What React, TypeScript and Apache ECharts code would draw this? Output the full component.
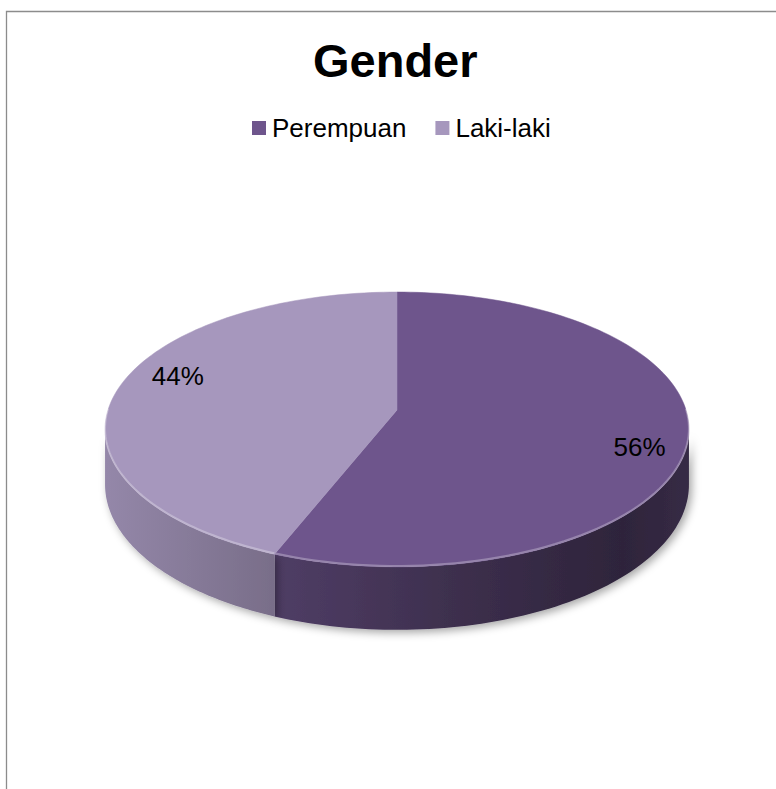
import React, { useEffect, useRef } from "react";
import * as echarts from "echarts";

// ---- data ----
const categories = ["Perempuan", "Laki-laki"];
const values = [56, 44];
const topColors = ["#6E558C", "#A697BD"];
const titleText = "Gender";

// ---- 3D pie projection (layout) ----
const CX = 397;
const CY = 410;
const RX = 289;
const RY = 134.7;
const PERSP = 0.1418;
const DEPTH = 54;
const LABEL_R = 0.84;
const LABEL_TURN = 0.13; // radians, clockwise shift of label anchor
const FONT = "'Liberation Sans', Arial, sans-serif";

const total = values.reduce((s, v) => s + v, 0);
const starts: number[] = [];
const ends: number[] = [];
{
  let acc = 0;
  values.forEach((v) => {
    starts.push((acc / total) * Math.PI * 2);
    acc += v;
    ends.push((acc / total) * Math.PI * 2);
  });
}

function project(theta: number, r: number, drop: number): number[] {
  const u = Math.sin(theta) * r;
  const v = Math.cos(theta) * r;
  const w = 1 + PERSP * v;
  return [CX + (RX * u) / w, CY - (RY * v) / w + drop / w];
}

function hexToRgb(hex: string): number[] {
  const h = hex.replace("#", "");
  return [0, 2, 4].map((i) => parseInt(h.slice(i, i + 2), 16));
}
function shade(hex: string, f: number): string {
  const [r, g, b] = hexToRgb(hex);
  return `rgb(${Math.round(r * f)},${Math.round(g * f)},${Math.round(b * f)})`;
}

function sideGradient(color: string) {
  return new echarts.graphic.LinearGradient(
    CX - RX - 8,
    0,
    CX + RX + 8,
    0,
    [
      { offset: 0, color: shade(color, 0.9) },
      { offset: 0.3, color: shade(color, 0.72) },
      { offset: 0.6, color: shade(color, 0.55) },
      { offset: 0.88, color: shade(color, 0.42) },
      { offset: 1, color: shade(color, 0.5) },
    ],
    true
  );
}

export default function App() {
  const ref = useRef<HTMLDivElement>(null);
  useEffect(() => {
    if (!ref.current) return;
    const chart = echarts.init(ref.current, undefined, { renderer: "svg" });
    const lo = Math.acos(-PERSP);
    const hi = Math.PI * 2 - lo;

    const option: any = {
      animation: false,
      backgroundColor: "#ffffff",
      title: {
        text: titleText,
        left: 308,
        top: 32,
        textStyle: { fontFamily: FONT, fontSize: 47, fontWeight: "bold", color: "#000" },
      },
      legend: {
        data: categories,
        left: 252,
        top: 115,
        padding: 0,
        icon: "rect",
        itemWidth: 14,
        itemHeight: 14,
        itemGap: 29,
        textStyle: { fontFamily: FONT, fontSize: 26, color: "#000", padding: [0, 0, 0, 1] },
      },
      graphic: [
        {
          type: "rect",
          shape: { x: 6.5, y: 11.5, width: 900, height: 900 },
          style: { fill: "none", stroke: "#8c8c8c", lineWidth: 1.3 },
          silent: true,
          z: -10,
        },
      ],
      series: [
        {
          type: "pie",
          name: "legend",
          radius: [0, 0],
          center: [CX, CY],
          silent: true,
          label: { show: false },
          labelLine: { show: false },
          data: categories.map((c, i) => ({
            name: c,
            value: values[i],
            itemStyle: { color: topColors[i] },
          })),
        },
        {
          type: "custom",
          name: "sides",
          coordinateSystem: "none",
          z: 1,
          silent: true,
          data: values,
          renderItem: (params: any) => {
            const i = params.dataIndex;
            const s = Math.max(starts[i], lo);
            const e = Math.min(ends[i], hi);
            if (s >= e) return { type: "group", children: [] };
            const n = 80;
            const pts: number[][] = [];
            for (let j = 0; j <= n; j++) pts.push(project(s + ((e - s) * j) / n, 1, 0));
            for (let j = n; j >= 0; j--) pts.push(project(s + ((e - s) * j) / n, 1, DEPTH));
            return {
              type: "polygon",
              shape: { points: pts },
              style: {
                fill: sideGradient(topColors[i]),
                shadowBlur: 8,
                shadowColor: "rgba(0,0,0,0.35)",
                shadowOffsetX: 3,
                shadowOffsetY: 3,
              },
            };
          },
        },
        {
          type: "custom",
          name: "tops",
          coordinateSystem: "none",
          z: 2,
          silent: true,
          data: values,
          renderItem: (params: any) => {
            const i = params.dataIndex;
            const a0 = starts[i];
            const a1 = ends[i];
            const n = Math.max(20, Math.round(((a1 - a0) / (Math.PI * 2)) * 240));
            const pts: number[][] = [project(0, 0, 0)];
            for (let j = 0; j <= n; j++) pts.push(project(a0 + ((a1 - a0) * j) / n, 1, 0));
            const children: any[] = [
              {
                type: "polygon",
                shape: { points: pts },
                style: { fill: topColors[i], stroke: topColors[i], lineWidth: 0.5 },
              },
            ];
            const rs = Math.max(a0, Math.PI / 2);
            const re = Math.min(a1, Math.PI * 1.5);
            if (rs < re) {
              const rim: number[][] = [];
              for (let j = 0; j <= 60; j++) {
                const p = project(rs + ((re - rs) * j) / 60, 1, 0);
                rim.push([p[0], p[1] - 1]);
              }
              children.push({
                type: "polyline",
                shape: { points: rim },
                style: { fill: "none", stroke: "rgba(255,255,255,0.28)", lineWidth: 2 },
              });
            }
            const mid = (a0 + a1) / 2 + LABEL_TURN;
            const lp = project(mid, LABEL_R, 0);
            children.push({
              type: "text",
              x: lp[0] + 3,
              y: lp[1],
              style: {
                text: Math.round((values[i] / total) * 100) + "%",
                font: `26px ${FONT}`,
                fill: "#000",
                align: "center",
                verticalAlign: "middle",
              },
            });
            return { type: "group", children };
          },
        },
      ],
    };
    chart.setOption(option);
    return () => chart.dispose();
  }, []);

  return (
    <div
      ref={ref}
      style={{ position: "fixed", left: 0, top: 0, width: 776, height: 789, background: "#fff" }}
    />
  );
}
